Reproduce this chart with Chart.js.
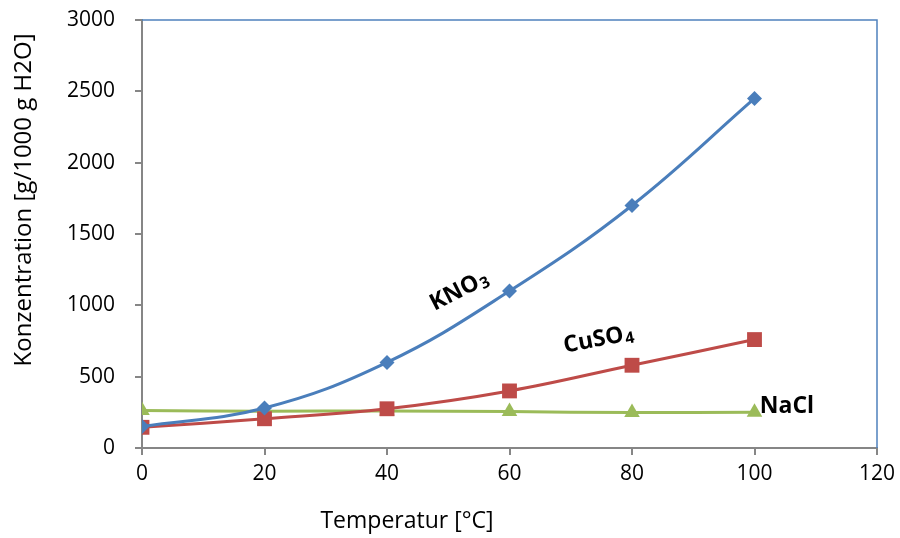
<!DOCTYPE html>
<html>
<head>
<meta charset="utf-8">
<script src="https://cdn.jsdelivr.net/npm/chart.js@4.4.0/dist/chart.umd.min.js"></script>
<style>
  html, body { margin: 0; padding: 0; background: #fff; }
  #wrap { width: 900px; height: 538px; }
</style>
</head>
<body>
<div id="wrap"><canvas id="loeslichkeit" width="900" height="538"></canvas></div>
<script>
// Temperatur in °C
const temperatur = [0, 20, 40, 60, 80, 100];
// Konzentration in g / 1000 g H2O
const kno3 = [150, 280, 600, 1100, 1700, 2450];
const cuso4 = [145, 205, 275, 400, 580, 760];
const nacl = [262, 258, 260, 255, 248, 250];
const xTicks = [0, 20, 40, 60, 80, 100, 120];
const yTicks = [0, 500, 1000, 1500, 2000, 2500, 3000];

const FONT = "'Open Sans', Lato, sans-serif";
const achse = '#868686';

function punkte(werte) {
  return temperatur.map((t, i) => ({ x: t, y: werte[i] }));
}

// Beschriftungen direkt an den Kurven
const kurvenText = {
  id: 'kurvenText',
  afterDatasetsDraw(chart) {
    const { ctx, scales } = chart;
    const items = [
      { haupt: 'KNO', index: '3', x: 51.7, y: 1110, winkel: -27 },
      { haupt: 'CuSO', index: '4', x: 74.5, y: 770, winkel: -11 },
      { haupt: 'NaCl', index: '', x: 105.3, y: 300, winkel: 0 }
    ];
    ctx.save();
    ctx.fillStyle = '#000';
    ctx.textBaseline = 'alphabetic';
    items.forEach(it => {
      const px = scales.x.getPixelForValue(it.x);
      const py = scales.y.getPixelForValue(it.y);
      ctx.save();
      ctx.translate(px, py);
      ctx.rotate(it.winkel * Math.PI / 180);
      ctx.font = 'bold 23px ' + FONT;
      const w1 = ctx.measureText(it.haupt).width;
      ctx.font = 'bold 16px ' + FONT;
      const w2 = it.index ? ctx.measureText(it.index).width + 1 : 0;
      const start = -(w1 + w2) / 2;
      ctx.font = 'bold 23px ' + FONT;
      ctx.textAlign = 'left';
      ctx.fillText(it.haupt, start, 8);
      if (it.index) {
        ctx.font = 'bold 16px ' + FONT;
        ctx.fillText(it.index, start + w1 + 1, 11);
      }
      ctx.restore();
    });
    ctx.restore();
  }
};

// Rahmen oben/rechts und Achsentitel
const rahmen = {
  id: 'rahmen',
  afterDraw(chart) {
    const { ctx, chartArea: a } = chart;
    ctx.save();
    ctx.strokeStyle = '#4F81BD';
    ctx.lineWidth = 1.5;
    ctx.beginPath();
    ctx.moveTo(a.left, a.top);
    ctx.lineTo(a.right, a.top);
    ctx.lineTo(a.right, a.bottom);
    ctx.stroke();

    ctx.fillStyle = '#000';
    ctx.font = '23px ' + FONT;
    ctx.textAlign = 'center';
    ctx.textBaseline = 'middle';
    ctx.fillText('Temperatur [°C]', 407, 521);
    ctx.font = '24px ' + FONT;
    ctx.translate(24, 200);
    ctx.rotate(-Math.PI / 2);
    ctx.fillText('Konzentration [g/1000 g H2O]', 0, 0);
    ctx.restore();
  }
};

const basis = {
  tension: 0.4,
  cubicInterpolationMode: 'default',
  borderWidth: 3,
  fill: false
};

new Chart(document.getElementById('loeslichkeit'), {
  type: 'line',
  data: {
    datasets: [
      Object.assign({}, basis, {
        label: 'KNO3',
        data: punkte(kno3),
        borderColor: '#4A7EBB',
        backgroundColor: '#4A7EBB',
        pointStyle: 'rectRot',
        pointRadius: 7.5,
        pointBorderWidth: 0
      }),
      Object.assign({}, basis, {
        label: 'CuSO4',
        data: punkte(cuso4),
        borderColor: '#BE4B48',
        backgroundColor: '#BE4B48',
        pointStyle: 'rect',
        pointRadius: 10.5,
        pointBorderWidth: 0
      }),
      Object.assign({}, basis, {
        label: 'NaCl',
        data: punkte(nacl),
        borderColor: '#9BBB59',
        backgroundColor: '#9BBB59',
        pointStyle: 'triangle',
        pointRadius: 9,
        pointBorderWidth: 0
      })
    ]
  },
  options: {
    responsive: false,
    animation: false,
    layout: { padding: { top: 20, right: 23, left: 0, bottom: 0 } },
    plugins: {
      legend: { display: false },
      tooltip: { enabled: false }
    },
    scales: {
      x: {
        type: 'linear',
        min: 0,
        max: 120,
        afterBuildTicks: s => { s.ticks = xTicks.map(v => ({ value: v })); },
        afterFit: s => { s.height = 90; s.paddingLeft = 0; s.paddingRight = 0; },
        border: { color: achse, width: 2 },
        grid: { drawOnChartArea: false, drawTicks: true, tickLength: 7, color: achse, lineWidth: 2 },
        ticks: { color: '#000', font: { family: FONT, size: 21 }, padding: 6, maxRotation: 0, callback: v => String(v) }
      },
      y: {
        min: 0,
        max: 3000,
        afterBuildTicks: s => { s.ticks = yTicks.map(v => ({ value: v })); },
        afterFit: s => { s.width = 142; s.paddingTop = 0; s.paddingBottom = 0; },
        border: { color: achse, width: 2 },
        grid: { drawOnChartArea: false, drawTicks: true, tickLength: 7, color: achse, lineWidth: 2 },
        ticks: { color: '#000', font: { family: FONT, size: 21 }, padding: 20, callback: v => String(v) }
      }
    }
  },
  plugins: [kurvenText, rahmen]
});
</script>
</body>
</html>
